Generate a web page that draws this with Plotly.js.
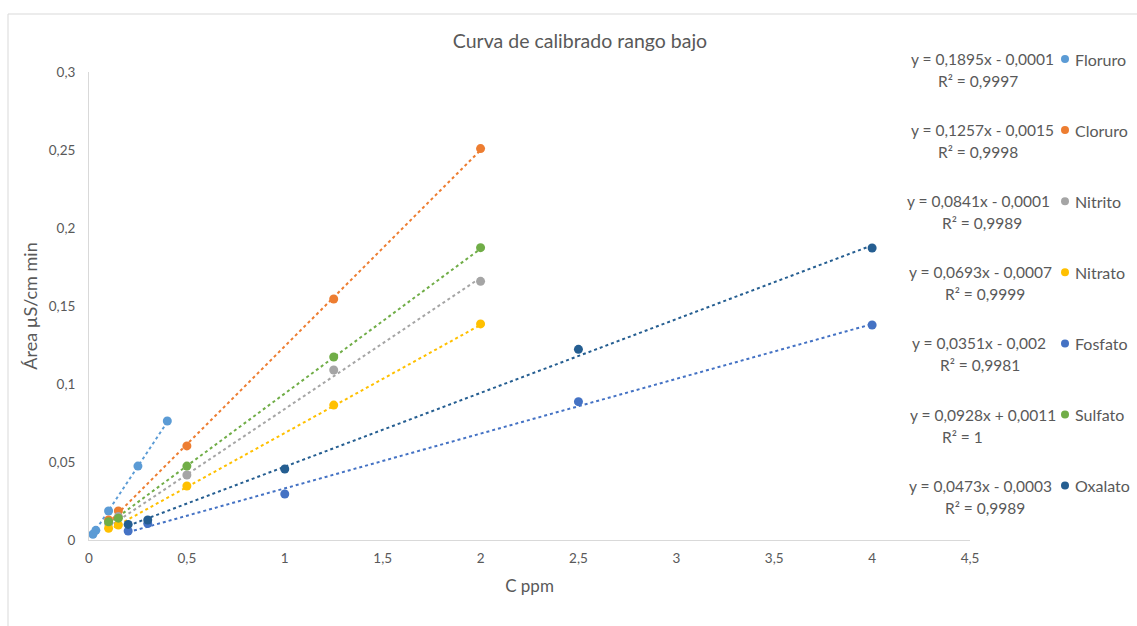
<!DOCTYPE html>
<html>
<head>
<meta charset="utf-8">
<script src="https://cdn.plot.ly/plotly-3.0.1.min.js"></script>
<style>
  html, body { margin: 0; padding: 0; background: #ffffff; }
  #chart { width: 1137px; height: 626px; }
</style>
</head>
<body>
<div id="chart"></div>
<script>
// Calibration curves (low range): peak area vs concentration for each ion
const seriesNames = ['Floruro', 'Cloruro', 'Nitrito', 'Nitrato', 'Fosfato', 'Sulfato', 'Oxalato'];

const florurosX = [0.02, 0.035, 0.1, 0.25, 0.4];
const florurosY = [0.0037, 0.0062, 0.0186, 0.0474, 0.0763];

const clorurosX = [0.1, 0.15, 0.5, 1.25, 2];
const clorurosY = [0.0128, 0.0186, 0.0603, 0.1545, 0.2509];

const nitritoX = [0.1, 0.15, 0.5, 1.25, 2];
const nitritoY = [0.0105, 0.0150, 0.0417, 0.1090, 0.1658];

const nitratoX = [0.1, 0.15, 0.5, 1.25, 2];
const nitratoY = [0.0075, 0.0096, 0.0346, 0.0865, 0.1385];

const fosfatoX = [0.2, 0.3, 1, 2.5, 4];
const fosfatoY = [0.0058, 0.0105, 0.0295, 0.0887, 0.1378];

const sulfatoX = [0.1, 0.15, 0.5, 1.25, 2];
const sulfatoY = [0.0117, 0.0140, 0.0474, 0.1173, 0.1874];

const oxalatoX = [0.2, 0.3, 1, 2.5, 4];
const oxalatoY = [0.0100, 0.0128, 0.0455, 0.1222, 0.1872];

// Linear trendline coefficients and R² for each series
const slopes = [0.1895, 0.1257, 0.0841, 0.0693, 0.0351, 0.0928, 0.0473];
const intercepts = [-0.0001, -0.0015, -0.0001, -0.0007, -0.002, 0.0011, -0.0003];
const rSquared = [0.9997, 0.9998, 0.9989, 0.9999, 0.9981, 1, 0.9989];

const xTickVals = [0, 0.5, 1, 1.5, 2, 2.5, 3, 3.5, 4, 4.5];
const yTickVals = [0, 0.05, 0.1, 0.15, 0.2, 0.25, 0.3];

const colors = ['#5B9BD5', '#ED7D31', '#A5A5A5', '#FFC000', '#4472C4', '#70AD47', '#255E91'];
const xs = [florurosX, clorurosX, nitritoX, nitratoX, fosfatoX, sulfatoX, oxalatoX];
const ys = [florurosY, clorurosY, nitritoY, nitratoY, fosfatoY, sulfatoY, oxalatoY];

// Page geometry (pixels)
const W = 1137, H = 626;
const plotL = 89, plotR = 970, plotT = 72, plotB = 540;
const px = p => (p - plotL) / (plotR - plotL);
const py = p => (plotB - p) / (plotB - plotT);

const fmt = v => String(Math.abs(v)).replace('.', ',');
const eqText = i => 'y = ' + fmt(slopes[i]) + 'x ' + (intercepts[i] < 0 ? '- ' : '+ ') + fmt(intercepts[i]);
const r2Text = i => 'R² = ' + fmt(rSquared[i]);

const textColor = '#595959';
const font = 'Lato, "Open Sans", sans-serif';

const traces = [];
// dotted trendlines, spanning each series' concentration range
seriesNames.forEach((name, i) => {
  const lo = Math.min(...xs[i]), hi = Math.max(...xs[i]);
  traces.push({
    x: [lo, hi],
    y: [slopes[i] * lo + intercepts[i], slopes[i] * hi + intercepts[i]],
    mode: 'lines',
    line: { color: colors[i], width: 2, dash: 'dot' },
    showlegend: false,
    hoverinfo: 'skip'
  });
});
// measured points
seriesNames.forEach((name, i) => {
  traces.push({
    x: xs[i],
    y: ys[i],
    name: name,
    mode: 'markers',
    marker: { color: colors[i], size: 9 },
    cliponaxis: false,
    showlegend: false
  });
});

// legend rows (marker + name) with the equation labels beside them
const rowY0 = 59, rowStep = 71.1;
const eqRight = [1056, 1056, 1052, 1054, 1048, 1058, 1054];
const r2Left = [936, 936, 940, 943, 938, 940, 943];
const keyX = 1065, keyTextX = 1073;
const annotations = [];
const shapes = [
  // chart frame (left and top edges fall inside the page)
  { type: 'rect', xref: 'paper', yref: 'paper',
    x0: px(8), x1: px(W + 20), y0: py(H + 20), y1: py(14),
    line: { color: '#d9d9d9', width: 1 }, fillcolor: 'rgba(0,0,0,0)', layer: 'below' }
];
seriesNames.forEach((name, i) => {
  const yRow = rowY0 + i * rowStep;
  annotations.push({
    xref: 'paper', yref: 'paper', x: px(eqRight[i]), y: py(yRow),
    xanchor: 'right', yanchor: 'middle', showarrow: false,
    text: eqText(i), font: { family: font, size: 15.5, color: textColor }
  });
  annotations.push({
    xref: 'paper', yref: 'paper', x: px(r2Left[i]), y: py(yRow + 22),
    xanchor: 'left', yanchor: 'middle', showarrow: false,
    text: r2Text(i), font: { family: font, size: 15.5, color: textColor }
  });
  annotations.push({
    xref: 'paper', yref: 'paper', x: px(keyTextX), y: py(yRow),
    xanchor: 'left', yanchor: 'middle', showarrow: false,
    text: name, font: { family: font, size: 16, color: textColor }
  });
  shapes.push({
    type: 'circle', xref: 'paper', yref: 'paper',
    xsizemode: 'pixel', ysizemode: 'pixel',
    xanchor: px(keyX), yanchor: py(yRow),
    x0: -4, x1: 4, y0: -4, y1: 4,
    fillcolor: colors[i], line: { width: 0 }
  });
});

const layout = {
  width: W, height: H,
  margin: { l: plotL, r: W - plotR, t: plotT, b: H - plotB, pad: 0 },
  paper_bgcolor: '#ffffff', plot_bgcolor: '#ffffff',
  separators: ',.',
  font: { family: font, color: textColor },
  showlegend: false,
  title: {
    text: 'Curva de calibrado rango bajo',
    font: { family: font, size: 19.5, color: textColor },
    xref: 'container', yref: 'container',
    x: 580 / W, y: 1 - 41 / H, xanchor: 'center', yanchor: 'middle'
  },
  xaxis: {
    range: [0, 4.5], tickvals: xTickVals,
    showgrid: false, zeroline: false,
    showline: true, linecolor: '#d9d9d9', linewidth: 1,
    ticks: '', ticklabelstandoff: 6,
    tickfont: { family: font, size: 13.5, color: textColor },
    title: { text: 'C ppm', font: { family: font, size: 17, color: textColor }, standoff: 14 }
  },
  yaxis: {
    range: [0, 0.3], tickvals: yTickVals,
    showgrid: false, zeroline: false,
    showline: true, linecolor: '#d9d9d9', linewidth: 1,
    ticks: '', ticklabelstandoff: 10,
    tickfont: { family: font, size: 13.5, color: textColor },
    title: { text: 'Área µS/cm min', font: { family: font, size: 18, color: textColor }, standoff: 6 }
  },
  annotations: annotations,
  shapes: shapes
};

Plotly.newPlot('chart', traces, layout, { displayModeBar: false, staticPlot: true });
</script>
</body>
</html>
